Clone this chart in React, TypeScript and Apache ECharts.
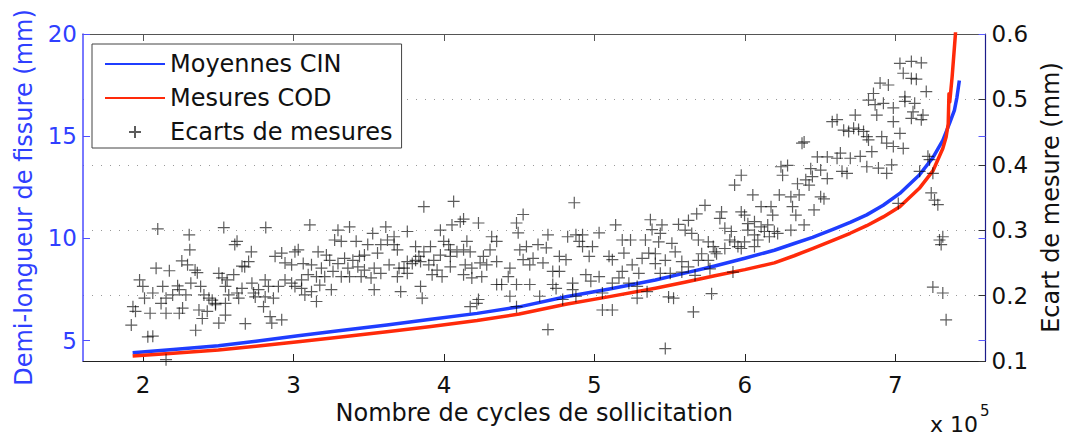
import React, { useEffect, useRef } from "react";
import * as echarts from "echarts";

const FONT = "DejaVu Sans";

// x in units of 10^5 cycles
const xTicks = [2, 3, 4, 5, 6, 7];
const leftTicks = [5, 10, 15, 20];

const cinX = [1.93, 2.2, 2.5, 2.75, 3.03, 3.3, 3.62, 3.9, 4.22, 4.5, 4.81, 5.1, 5.405, 5.6, 5.8, 6.0, 6.196, 6.328, 6.45, 6.59, 6.7, 6.81, 6.92, 7.03, 7.16, 7.25, 7.316, 7.36, 7.393, 7.41, 7.426];
const cinY = [4.40, 4.56, 4.75, 4.97, 5.24, 5.48, 5.76, 6.03, 6.33, 6.65, 7.14, 7.52, 7.96, 8.30, 8.65, 9.03, 9.42, 9.75, 10.05, 10.45, 10.78, 11.15, 11.62, 12.2, 13.1, 13.95, 14.80, 15.61, 16.26, 16.9, 17.73];

const codX = [1.93, 2.2, 2.5, 2.75, 3.03, 3.3, 3.62, 3.9, 4.22, 4.5, 4.81, 5.1, 5.405, 5.6, 5.8, 6.0, 6.196, 6.328, 6.45, 6.59, 6.7, 6.81, 6.92, 7.03, 7.16, 7.25, 7.316, 7.338, 7.352, 7.357, 7.362, 7.378, 7.40, 7.405];
const codY = [4.24, 4.38, 4.54, 4.72, 4.94, 5.16, 5.43, 5.68, 5.98, 6.30, 6.78, 7.15, 7.56, 7.85, 8.17, 8.47, 8.80, 9.15, 9.50, 9.92, 10.25, 10.62, 11.05, 11.55, 12.45, 13.30, 14.40, 14.96, 15.61, 17.08, 16.67, 17.9, 20.0, 21.0];

const ecartPoints: [number, number][] = [
  [2.097,0.302],[2.306,0.293],[2.310,0.270],[2.536,0.304],[2.624,0.283],[2.609,0.278],[2.815,0.304],[2.719,0.267],[2.701,0.252],[2.657,0.245],
  [2.675,0.244],[2.257,0.253],[2.295,0.247],[2.345,0.239],[2.360,0.235],[2.086,0.242],[2.174,0.238],[1.976,0.224],[1.998,0.214],[2.130,0.214],
  [2.229,0.215],[2.240,0.209],[2.064,0.204],[2.009,0.196],[1.932,0.183],[1.949,0.176],[1.921,0.155],[2.046,0.173],[2.119,0.188],[2.152,0.196],
  [2.196,0.201],[2.284,0.201],[2.152,0.173],[2.240,0.173],[2.262,0.181],[2.317,0.219],[2.382,0.214],[2.404,0.201],[2.437,0.196],[2.459,0.193],
  [2.481,0.188],[2.503,0.234],[2.525,0.227],[2.558,0.224],[2.602,0.232],[2.547,0.214],[2.569,0.201],[2.624,0.204],[2.635,0.196],[2.657,0.211],
  [2.723,0.219],[2.734,0.204],[2.767,0.209],[2.811,0.224],[2.833,0.214],[2.899,0.214],[2.943,0.224],[2.987,0.219],[3.009,0.214],[2.877,0.260],
  [2.921,0.265],[3.009,0.267],[2.943,0.250],[2.987,0.247],[2.371,0.178],[2.393,0.165],[2.349,0.147],[2.503,0.158],[2.547,0.170],[2.481,0.186],
  [2.679,0.157],[2.800,0.183],[2.844,0.168],[2.855,0.158],[2.921,0.163],[2.031,0.137],[2.064,0.138],[2.811,0.198],[2.866,0.196],[2.745,0.198],
  [2.547,0.188],[2.426,0.176],[2.152,0.102],
  [3.108,0.308],[3.295,0.300],[3.372,0.305],[3.526,0.295],[3.613,0.305],[3.668,0.290],[3.756,0.298],[3.866,0.336],[4.064,0.344],[3.976,0.300],
  [4.053,0.308],[4.108,0.313],[4.130,0.317],[4.152,0.283],[4.086,0.267],[3.998,0.283],[4.031,0.278],[3.910,0.275],[3.811,0.275],[3.690,0.270],
  [3.558,0.265],[3.493,0.278],[3.416,0.283],[3.317,0.283],[3.273,0.285],[3.163,0.267],[3.218,0.262],[3.240,0.254],[3.339,0.257],[3.394,0.254],
  [3.438,0.260],[3.471,0.262],[3.580,0.278],[3.624,0.285],[3.668,0.278],[3.756,0.252],[3.811,0.254],[3.833,0.260],[3.866,0.267],[3.932,0.254],
  [3.976,0.262],[4.042,0.270],[4.130,0.270],[4.174,0.267],[3.064,0.249],[3.119,0.247],[3.185,0.242],[3.262,0.237],[3.295,0.249],[3.361,0.242],
  [3.427,0.244],[3.471,0.239],[3.536,0.242],[3.635,0.247],[3.701,0.242],[3.734,0.242],[3.789,0.249],[3.844,0.252],[3.899,0.247],[3.954,0.239],
  [4.042,0.244],[4.141,0.247],[4.185,0.242],[3.031,0.270],[3.053,0.224],[3.097,0.232],[3.152,0.229],[3.207,0.229],[3.317,0.229],[3.372,0.229],
  [3.449,0.229],[3.515,0.227],[3.580,0.234],[3.690,0.229],[3.756,0.234],[3.921,0.232],[3.987,0.229],[3.053,0.211],[3.119,0.206],[3.174,0.216],
  [3.251,0.209],[3.536,0.209],[3.712,0.206],[3.844,0.214],[3.855,0.196],[3.075,0.201],[3.152,0.191],[4.174,0.183],[4.218,0.188],[4.130,0.232],
  [4.185,0.227],[4.042,0.260],
  [4.866,0.342],[4.526,0.324],[4.482,0.311],[4.493,0.296],[4.317,0.290],[4.350,0.283],[4.229,0.311],[4.306,0.270],[4.262,0.260],[4.240,0.250],
  [4.284,0.247],[4.251,0.229],[4.350,0.217],[4.383,0.217],[4.427,0.229],[4.438,0.242],[4.504,0.270],[4.548,0.275],[4.526,0.255],[4.570,0.247],
  [4.592,0.257],[4.625,0.278],[4.680,0.273],[4.691,0.293],[4.658,0.250],[4.723,0.237],[4.767,0.260],[4.811,0.255],[4.822,0.290],[4.877,0.293],
  [4.921,0.293],[4.899,0.283],[4.921,0.275],[4.987,0.275],[4.965,0.260],[5.031,0.296],[5.141,0.308],[5.185,0.285],[5.240,0.285],[5.339,0.285],
  [5.372,0.316],[5.383,0.301],[5.097,0.260],[5.119,0.255],[5.196,0.265],[5.251,0.247],[5.295,0.234],[5.361,0.265],[5.317,0.257],[4.438,0.199],
  [4.482,0.217],[4.570,0.217],[4.636,0.199],[4.723,0.217],[4.745,0.211],[4.789,0.194],[4.855,0.219],[4.877,0.199],[4.943,0.232],[4.976,0.222],
  [5.031,0.229],[5.053,0.204],[5.119,0.219],[5.163,0.227],[5.185,0.237],[5.229,0.219],[5.284,0.214],[4.229,0.194],[4.482,0.183],[5.053,0.178],
  [5.119,0.178],[5.284,0.196],[5.350,0.206],[4.691,0.148],[4.350,0.252],[4.767,0.237],[4.855,0.209],
  [6.581,0.466],[6.394,0.435],[6.482,0.412],[6.548,0.412],[6.284,0.399],[6.240,0.397],[6.438,0.394],[6.504,0.392],[6.251,0.384],[6.548,0.379],
  [6.350,0.371],[6.405,0.377],[6.427,0.369],[6.449,0.382],[5.976,0.384],[5.932,0.369],[6.053,0.354],[6.229,0.354],[6.306,0.351],[6.361,0.354],
  [6.504,0.351],[6.526,0.348],[5.735,0.338],[5.680,0.325],[5.625,0.315],[5.559,0.309],[5.449,0.308],[5.438,0.295],[5.845,0.328],[5.834,0.318],
  [5.976,0.328],[5.998,0.323],[6.108,0.336],[6.174,0.336],[6.185,0.323],[6.020,0.310],[6.064,0.313],[6.108,0.305],[6.152,0.308],[6.196,0.298],
  [6.218,0.295],[6.306,0.300],[6.317,0.336],[6.339,0.323],[6.460,0.331],[6.394,0.308],[5.603,0.300],[5.647,0.295],[5.691,0.285],[5.515,0.280],
  [5.537,0.267],[5.757,0.282],[5.790,0.275],[5.812,0.264],[5.867,0.303],[5.910,0.298],[5.900,0.285],[5.932,0.282],[5.954,0.275],[5.998,0.282],
  [6.020,0.300],[6.064,0.293],[6.086,0.285],[6.130,0.298],[6.163,0.290],[5.427,0.282],[5.405,0.249],[5.471,0.254],[5.504,0.234],[5.438,0.234],
  [5.581,0.252],[5.625,0.244],[5.691,0.254],[5.713,0.264],[5.757,0.254],[5.801,0.267],[5.768,0.241],[5.581,0.236],[5.669,0.231],[5.921,0.236],
  [5.779,0.203],[5.658,0.175],[5.471,0.119],[5.493,0.198],[5.526,0.196],[5.405,0.264],[5.976,0.272],[5.867,0.272],[6.064,0.275],
  [7.031,0.555],[7.107,0.558],[7.173,0.556],[7.053,0.540],[7.107,0.532],[7.140,0.531],[6.899,0.525],[6.954,0.522],[6.855,0.509],[6.822,0.499],
  [6.866,0.492],[6.921,0.494],[6.987,0.487],[7.064,0.504],[7.064,0.497],[7.129,0.494],[7.206,0.512],[7.118,0.481],[7.184,0.476],[7.173,0.469],
  [7.107,0.471],[6.987,0.466],[7.031,0.448],[6.877,0.476],[6.734,0.476],[6.613,0.469],[6.657,0.453],[6.690,0.451],[6.723,0.456],[6.756,0.454],
  [6.789,0.451],[6.811,0.443],[6.910,0.443],[6.943,0.433],[6.987,0.428],[7.053,0.425],[6.844,0.420],[6.822,0.438],[6.635,0.418],[6.613,0.410],
  [6.701,0.410],[6.767,0.413],[6.646,0.390],[6.679,0.387],[6.811,0.397],[6.888,0.395],[6.943,0.387],[6.976,0.400],[7.217,0.413],[7.228,0.408],
  [7.162,0.390],[7.250,0.387],[7.020,0.341],[7.239,0.357],[7.261,0.346],[7.283,0.339],[7.316,0.290],[7.294,0.285],[7.305,0.278],[7.250,0.213],
  [7.316,0.204],[7.338,0.163],[6.380,0.433]
];

const legendNames = ["Moyennes CIN", "Mesures COD", "Ecarts de mesures"];
const xTitle = "Nombre de cycles de sollicitation";
const leftTitle = "Demi-longueur de fissure (mm)";
const rightTitle = "Ecart de mesure (mm)";

export default function App() {
  const ref = useRef<HTMLDivElement>(null);
  useEffect(() => {
    const chart = echarts.init(ref.current!, null, { renderer: "svg" });
    const blue = "#1f3dff";
    const red = "#ff2a0a";
    const axisBlue = "#4d4dff";
    const labelBlue = "#2f3fff";
    const option: any = {
      animation: false,
      textStyle: { fontFamily: FONT },
      grid: { left: 83, right: 79, top: 34, bottom: 78, containLabel: false },
      legend: {
        show: true,
        orient: "vertical",
        left: 92,
        top: 44,
        padding: [8, 9, 4, 12],
        itemGap: 10,
        itemWidth: 60,
        itemHeight: 12,
        backgroundColor: "#fff",
        borderColor: "#444",
        borderWidth: 1,
        borderRadius: 0,
        textStyle: { fontSize: 24, color: "#111", lineHeight: 24, fontFamily: FONT },
        data: [
          { name: legendNames[0], itemStyle: { opacity: 0 } },
          { name: legendNames[1], itemStyle: { opacity: 0 } },
          { name: legendNames[2] },
        ],
      },
      xAxis: [
        {
          type: "value", min: 1.6, max: 7.6, position: "bottom",
          axisLine: { show: true, lineStyle: { color: "#222", width: 1 } },
          axisTick: { show: true, inside: true, length: 7, customValues: xTicks, lineStyle: { color: "#222" } },
          axisLabel: { customValues: xTicks, fontSize: 23, color: "#111", margin: 12, fontFamily: FONT, formatter: (v: number) => String(v) },
          splitLine: { show: false },
          name: xTitle, nameLocation: "middle", nameGap: 36,
          nameTextStyle: { fontSize: 24, color: "#111", fontFamily: FONT },
        },
        {
          type: "value", min: 1.6, max: 7.6, position: "top",
          axisLine: { show: true, lineStyle: { color: "#555", width: 1 } },
          axisTick: { show: true, inside: true, length: 7, customValues: xTicks, lineStyle: { color: "#555" } },
          axisLabel: { show: false },
          splitLine: { show: false },
        },
      ],
      yAxis: [
        {
          type: "value", min: 4, max: 20, position: "left",
          axisLine: { show: true, lineStyle: { color: axisBlue, width: 1.5 } },
          axisTick: { show: true, inside: true, length: 7, customValues: leftTicks, lineStyle: { color: axisBlue } },
          axisLabel: { customValues: leftTicks, color: labelBlue, fontSize: 23, margin: 6, fontFamily: FONT },
          splitLine: { show: false },
          name: leftTitle, nameLocation: "middle", nameGap: 47,
          nameTextStyle: { color: labelBlue, fontSize: 24, fontFamily: FONT },
        },
        {
          type: "value", min: 0.1, max: 0.6, interval: 0.1, position: "right",
          axisLine: { show: true, lineStyle: { color: "#1c1c8a", width: 1.2 } },
          axisTick: { show: true, inside: true, length: 7, lineStyle: { color: "#333" } },
          axisLabel: { color: "#111", fontSize: 23, margin: 6, fontFamily: FONT, formatter: (v: number) => v.toFixed(1) },
          splitLine: { show: true, lineStyle: { type: [1, 8], color: "#999", width: 1 } },
          name: rightTitle, nameLocation: "middle", nameGap: 50,
          nameTextStyle: { color: "#111", fontSize: 24, fontFamily: FONT },
        },
        {
          type: "value", min: 4, max: 20, position: "right",
          axisLine: { show: false },
          axisTick: { show: true, inside: true, length: 7, customValues: leftTicks, lineStyle: { color: "#5a5aff" } },
          axisLabel: { show: false },
          splitLine: { show: false },
        },
      ],
      graphic: [
        { type: "text", left: 930, top: 413, style: { text: "x 10", fontSize: 22, fill: "#111", fontFamily: FONT } },
        { type: "text", left: 980, top: 403, style: { text: "5", fontSize: 15, fill: "#111", fontFamily: FONT } },
      ],
      series: [
        {
          name: legendNames[0], type: "line", xAxisIndex: 0, yAxisIndex: 0,
          data: cinX.map((x, i) => [x, cinY[i]]),
          symbol: "none", showSymbol: false,
          lineStyle: { color: blue, width: 3.5, join: "round" }, itemStyle: { color: blue }, z: 2,
        },
        {
          name: legendNames[1], type: "line", xAxisIndex: 0, yAxisIndex: 0,
          data: codX.map((x, i) => [x, codY[i]]),
          symbol: "none", showSymbol: false,
          lineStyle: { color: red, width: 3.5, join: "round" }, itemStyle: { color: red }, z: 2,
        },
        {
          name: legendNames[2], type: "scatter", xAxisIndex: 0, yAxisIndex: 1,
          data: ecartPoints,
          symbol: "path://M0,5L10,5M5,0L5,10",
          symbolSize: 12,
          symbolKeepAspect: true,
          itemStyle: { color: "rgba(0,0,0,0)", borderColor: "rgba(0,0,0,0.8)", borderWidth: 1.2 },
          z: 3,
        },
      ],
    };
    chart.setOption(option);
    return () => chart.dispose();
  }, []);
  return (
    <div
      ref={ref}
      style={{ position: "fixed", left: 0, top: 0, width: 1071, height: 439, background: "#fff" }}
    />
  );
}
